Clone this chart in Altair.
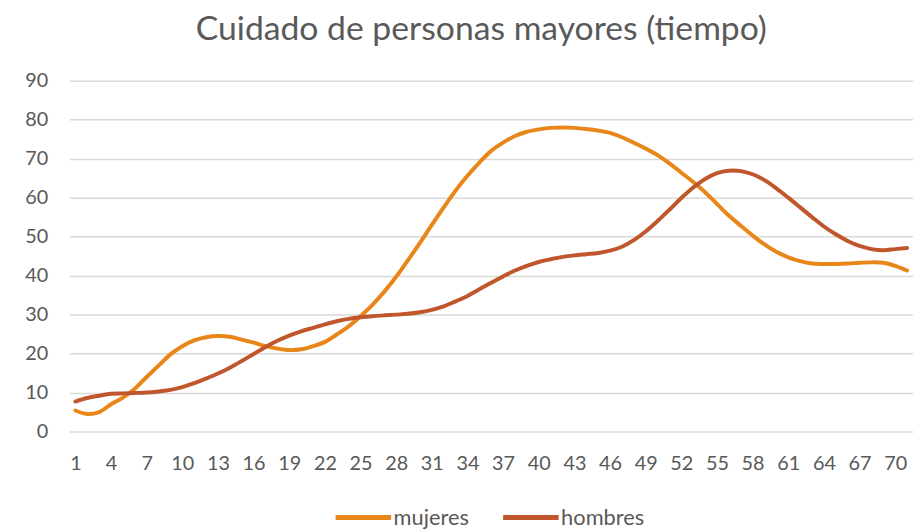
import altair as alt
import pandas as pd

periodos = list(range(1, 72))
mujeres = [5.4, 4.5, 5.0, 7.0, 8.7, 11.0, 14.0, 16.9, 19.8, 21.9,
           23.4, 24.2, 24.5, 24.3, 23.6, 22.8, 21.9, 21.3, 20.9, 21.1,
           21.9, 23.0, 24.9, 27.0, 29.6, 32.5, 35.9, 39.7, 44.0, 48.4,
           53.0, 57.5, 61.8, 65.6, 69.0, 72.0, 74.1, 75.8, 76.9, 77.5,
           77.9, 78.0, 77.9, 77.6, 77.2, 76.6, 75.5, 74.1, 72.6, 70.9,
           68.8, 66.4, 64.0, 61.4, 58.4, 55.4, 52.8, 50.3, 48.0, 46.1,
           44.7, 43.7, 43.1, 43.0, 43.0, 43.1, 43.3, 43.4, 43.3, 42.5, 41.3]
hombres = [7.7, 8.6, 9.2, 9.7, 9.8, 9.9, 10.0, 10.3, 10.7, 11.4,
           12.4, 13.6, 14.9, 16.4, 18.1, 19.9, 21.7, 23.3, 24.6, 25.7,
           26.6, 27.5, 28.3, 28.9, 29.3, 29.6, 29.8, 30.0, 30.2, 30.6,
           31.2, 32.1, 33.4, 34.8, 36.5, 38.2, 39.8, 41.3, 42.5, 43.5,
           44.2, 44.8, 45.2, 45.5, 45.8, 46.4, 47.4, 49.1, 51.3, 54.0,
           56.9, 59.9, 62.6, 64.8, 66.3, 66.9, 66.8, 66.0, 64.5, 62.4,
           60.0, 57.5, 55.0, 52.6, 50.6, 48.9, 47.6, 46.8, 46.5, 46.8, 47.1]
series = ["mujeres", "hombres"]
colores = ["#E8861A", "#C0562C"]
x_ticks = list(range(1, 71, 3))
y_ticks = list(range(0, 91, 10))
titulo = "Cuidado de personas mayores (tiempo)"

df = pd.DataFrame({
    "periodo": periodos + periodos,
    "valor": mujeres + hombres,
    "serie": [series[0]] * len(mujeres) + [series[1]] * len(hombres),
    "orden": [0] * len(mujeres) + [1] * len(hombres),
})

FONT = "Lato"
GRAY = "#595959"

chart = alt.Chart(df).mark_line(
    strokeWidth=4, interpolate="catmull-rom", strokeCap="round", clip=False
).encode(
    x=alt.X("periodo:Q",
            scale=alt.Scale(domain=[0.5, 71.5], nice=False, zero=False),
            axis=alt.Axis(values=x_ticks, grid=False, domain=False, ticks=False,
                          tickSize=0, labelPadding=22, labelFontSize=20,
                          labelColor=GRAY, labelFont=FONT, title=None,
                          labelFlush=False, labelOverlap=False)),
    y=alt.Y("valor:Q",
            scale=alt.Scale(domain=[0, 90], nice=False),
            axis=alt.Axis(values=y_ticks, grid=True, gridColor="#D9D9D9",
                          gridWidth=1.5, domain=False, ticks=False, tickSize=0,
                          labelPadding=22, labelFontSize=20, labelColor=GRAY,
                          labelFont=FONT, title=None)),
    color=alt.Color("serie:N",
                    scale=alt.Scale(domain=series, range=colores),
                    legend=alt.Legend(title=None, orient="none", direction="horizontal",
                                      legendX=266, legendY=410,
                                      symbolType="stroke", symbolSize=3136,
                                      symbolStrokeWidth=5, labelFontSize=22,
                                      labelFont=FONT, labelColor=GRAY,
                                      labelOffset=0, columnPadding=24)),
    order=alt.Order("orden:Q"),
).properties(
    width=851,
    height=354,
    title=alt.TitleParams(titulo, fontSize=34, font=FONT, color=GRAY,
                          fontWeight="normal", anchor="middle", offset=24, dx=-10),
    padding={"left": 62, "top": 71, "right": 0, "bottom": 100},
    autosize="none",
).configure_view(stroke=None)

chart.save("out.html", embed_options={"renderer": "svg", "actions": False})
